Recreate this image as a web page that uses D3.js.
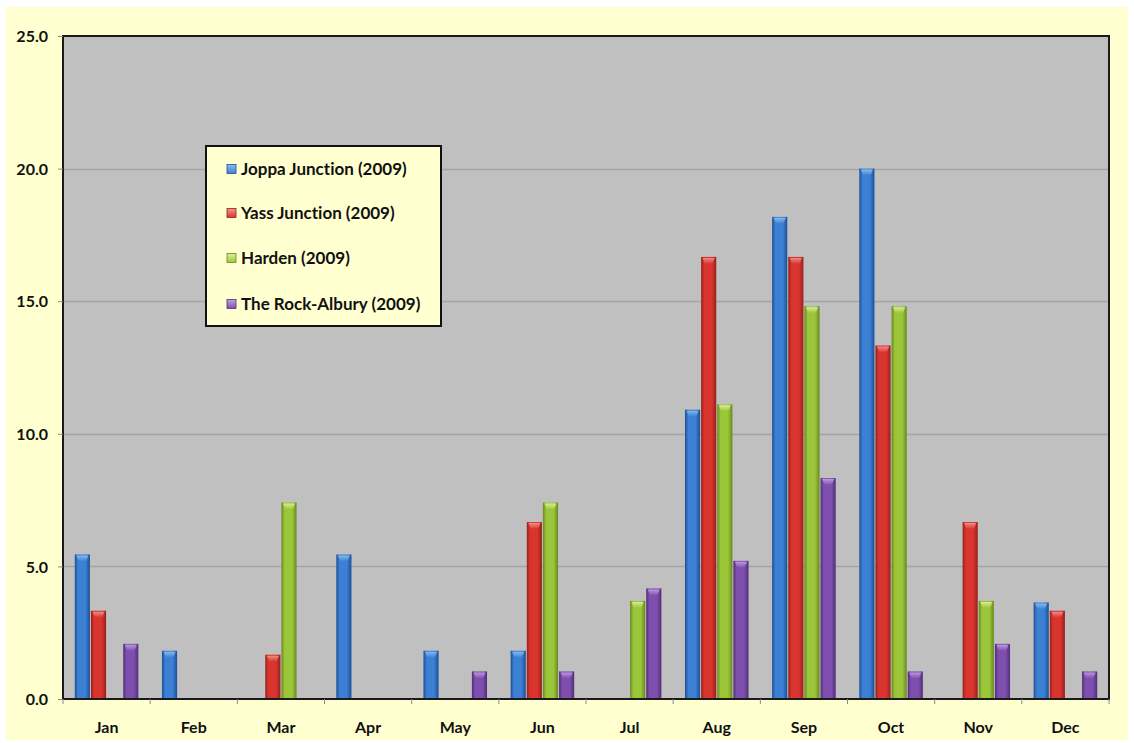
<!DOCTYPE html>
<html>
<head>
<meta charset="utf-8">
<script src="https://cdn.jsdelivr.net/npm/d3@7"></script>
<style>
  html, body { margin: 0; padding: 0; background: #ffffff; }
  svg { display: block; }
  text { font-family: Lato, "Open Sans", sans-serif; font-weight: bold; fill: #111;
         font-variant-ligatures: none; font-feature-settings: "liga" 0; }
</style>
</head>
<body>
<svg id="chart" width="1134" height="743"></svg>
<script>
// Monthly values for each station, 2009
const months = ["Jan", "Feb", "Mar", "Apr", "May", "Jun", "Jul", "Aug", "Sep", "Oct", "Nov", "Dec"];
const seriesNames = ["Joppa Junction (2009)", "Yass Junction (2009)", "Harden (2009)", "The Rock-Albury (2009)"];
const joppa = [5.45, 1.82, 0, 5.45, 1.82, 1.82, 0, 10.91, 18.18, 20.0, 0, 3.64];
const yass = [3.33, 0, 1.67, 0, 0, 6.67, 0, 16.67, 16.67, 13.33, 6.67, 3.33];
const harden = [0, 0, 7.41, 0, 0, 7.41, 3.70, 11.11, 14.81, 14.81, 3.70, 0];
const rockAlbury = [2.08, 0, 0, 0, 1.04, 1.04, 4.17, 5.21, 8.33, 1.04, 2.08, 1.04];
const yTicks = [0, 5, 10, 15, 20, 25];

const seriesValues = [joppa, yass, harden, rockAlbury];
const colors = [
  { base: "#3b80d3", dark: "#1d4f96", light: "#8cc0f2" },
  { base: "#d9352e", dark: "#98201b", light: "#f29590" },
  { base: "#9cc63a", dark: "#68891d", light: "#dcf299" },
  { base: "#7f4faf", dark: "#522e77", light: "#c0a2e0" }
];

const svg = d3.select("#chart");
const plot = { left: 63, top: 36, right: 1109, bottom: 699 };

// Page background panel
svg.append("rect").attr("x", 6).attr("y", 7).attr("width", 1122).attr("height", 733)
  .attr("fill", "#ffffd0");

const x = d3.scaleBand().domain(months).range([plot.left, plot.right]).padding(0);
const xs = d3.scaleBand().domain(d3.range(4)).range([0, x.bandwidth()])
  .paddingInner(0).paddingOuter(0.7);
const y = d3.scaleLinear().domain([0, 25]).range([plot.bottom, plot.top]);

// Gradients for the cylinder-like bars
const defs = svg.append("defs");
colors.forEach((c, i) => {
  const g = defs.append("linearGradient").attr("id", "bar" + i)
    .attr("x1", "0").attr("x2", "1").attr("y1", "0").attr("y2", "0");
  g.append("stop").attr("offset", "0%").attr("stop-color", c.dark);
  g.append("stop").attr("offset", "22%").attr("stop-color", c.base);
  g.append("stop").attr("offset", "70%").attr("stop-color", c.base);
  g.append("stop").attr("offset", "100%").attr("stop-color", c.dark);
  const cap = defs.append("linearGradient").attr("id", "cap" + i)
    .attr("x1", "0").attr("x2", "0").attr("y1", "0").attr("y2", "1");
  cap.append("stop").attr("offset", "0%").attr("stop-color", c.light);
  cap.append("stop").attr("offset", "100%").attr("stop-color", c.base);
});

// Plot area
svg.append("rect").attr("x", plot.left).attr("y", plot.top)
  .attr("width", plot.right - plot.left).attr("height", plot.bottom - plot.top)
  .attr("fill", "#c0c0c0");

// Gridlines
svg.append("g").selectAll("line").data(yTicks.filter(t => t > 0 && t < 25)).join("line")
  .attr("x1", plot.left).attr("x2", plot.right)
  .attr("y1", d => Math.round(y(d)) + 0.5).attr("y2", d => Math.round(y(d)) + 0.5)
  .attr("stroke", "#a4a4a4").attr("stroke-width", 1.5);

// Bars
const groups = svg.append("g").selectAll("g").data(seriesValues).join("g")
  .attr("data-series", (d, i) => seriesNames[i]);
groups.each(function (vals, si) {
  const g = d3.select(this);
  const items = vals.map((v, mi) => ({ v, m: months[mi] })).filter(d => d.v > 0);
  const bw = xs.bandwidth();
  g.selectAll("rect.body").data(items).join("rect").attr("class", "body")
    .attr("x", d => x(d.m) + xs(si) + 0.5)
    .attr("y", d => y(d.v))
    .attr("width", bw - 1)
    .attr("height", d => y(0) - y(d.v))
    .attr("fill", "url(#bar" + si + ")");
  g.selectAll("path.cap").data(items).join("path").attr("class", "cap")
    .attr("d", d => {
      const x0 = x(d.m) + xs(si) + 2, x1 = x0 + bw - 4, yt = y(d.v) + 1;
      return `M${x0},${yt} L${x1},${yt} L${x1 - 2},${yt + 5} Q${(x0 + x1) / 2},${yt + 7} ${x0 + 2},${yt + 5} Z`;
    })
    .attr("fill", "url(#cap" + si + ")").attr("opacity", 0.9);
});

// Plot frame
svg.append("rect").attr("x", plot.left).attr("y", plot.top)
  .attr("width", plot.right - plot.left).attr("height", plot.bottom - plot.top)
  .attr("fill", "none").attr("stroke", "#1a1a1a").attr("stroke-width", 2);

// Y axis
const yAxis = d3.axisLeft(y).tickValues(yTicks).tickFormat(d3.format(".1f")).tickSize(5).tickPadding(10);
const ya = svg.append("g").attr("transform", `translate(${plot.left},0)`).call(yAxis);
ya.select(".domain").remove();
ya.selectAll(".tick line").attr("stroke", "#888");
ya.selectAll(".tick text").attr("font-size", 16).attr("font-family", "Lato, sans-serif")
  .attr("font-weight", "bold").attr("fill", "#111").attr("dy", "0.35em");

// X axis: ticks at category boundaries
const xa = svg.append("g");
xa.selectAll("line").data(d3.range(months.length + 1)).join("line")
  .attr("x1", i => plot.left + i * x.bandwidth()).attr("x2", i => plot.left + i * x.bandwidth())
  .attr("y1", plot.bottom).attr("y2", plot.bottom + 5)
  .attr("stroke", "#888");
xa.selectAll("text").data(months).join("text")
  .attr("x", d => x(d) + x.bandwidth() / 2).attr("y", 733)
  .attr("text-anchor", "middle").attr("font-size", 16).text(d => d);

// Legend
const lg = svg.append("g");
lg.append("rect").attr("x", 206).attr("y", 146).attr("width", 235).attr("height", 180)
  .attr("fill", "#ffffd0").attr("stroke", "#111").attr("stroke-width", 2);
const rowY = [169, 213, 258, 304];
seriesNames.forEach((name, i) => {
  lg.append("rect").attr("x", 227).attr("y", rowY[i] - 4.5).attr("width", 9).attr("height", 9)
    .attr("fill", "url(#cap" + i + ")").attr("stroke", colors[i].dark).attr("stroke-width", 0.8);
  lg.append("text").attr("x", 241).attr("y", rowY[i]).attr("dy", "0.35em")
    .attr("font-size", 17).text(name);
});
</script>
</body>
</html>
